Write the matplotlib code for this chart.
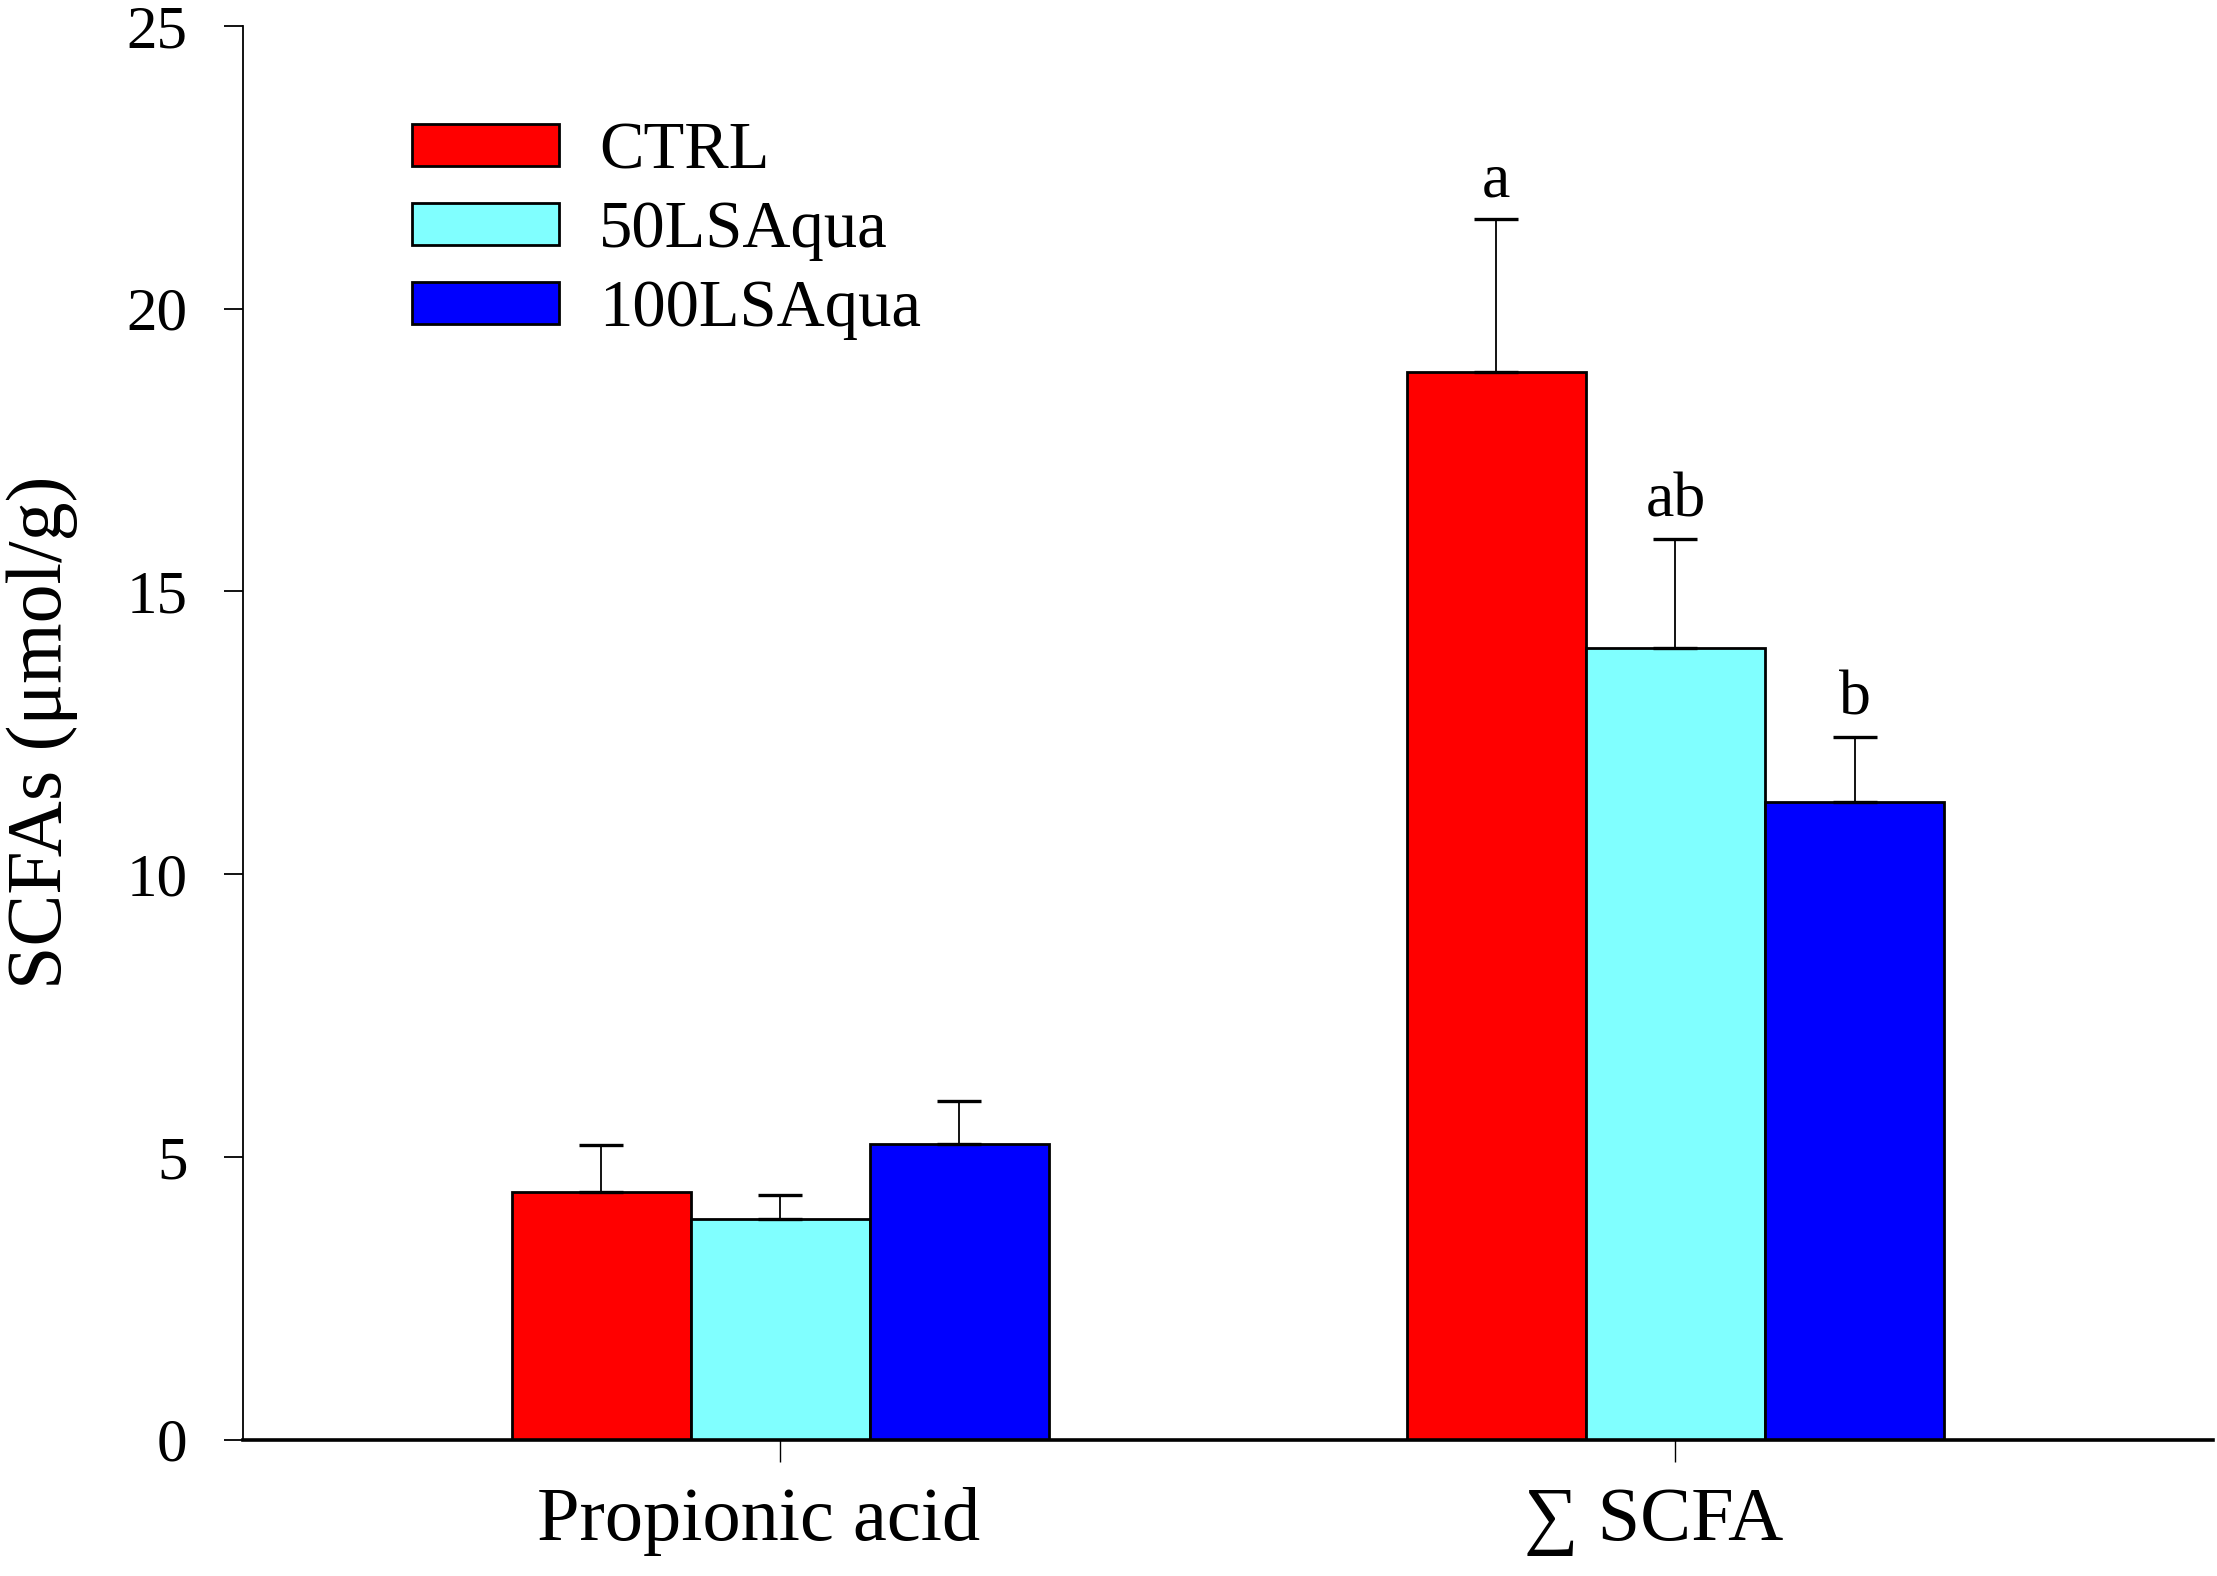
import matplotlib
matplotlib.use("Agg")
from matplotlib import pyplot as plt
from matplotlib import transforms
import numpy as np

plt.rcParams['font.family'] = ['Liberation Serif', 'DejaVu Serif']

categories = ["Propionic acid", "\u2211 SCFA"]
groups = ["CTRL", "50LSAqua", "100LSAqua"]
colors = ["#ff0000", "#80ffff", "#0000ff"]

# means and upper error (SEM) for each group
ctrl = [4.38, 18.88]
ctrl_err = [0.82, 2.70]
lsa50 = [3.90, 14.00]
lsa50_err = [0.43, 1.93]
lsa100 = [5.22, 11.28]
lsa100_err = [0.76, 1.15]
letters = [["", "a"], ["", "ab"], ["", "b"]]

means = [ctrl, lsa50, lsa100]
errs = [ctrl_err, lsa50_err, lsa100_err]

fig = plt.figure(figsize=(22.17, 15.76), dpi=100)
ax = fig.add_axes([0.1097, 0.0866, 0.8883, 0.897])

x = np.arange(1, len(categories) + 1)
w = 0.2
for i in range(3):
	pos = x + (i - 1) * w
	ax.bar(pos, means[i], width=w, color=colors[i], edgecolor="black", linewidth=2.0, label=groups[i], zorder=2)
	ax.errorbar(pos, means[i], yerr=[np.zeros(len(pos)), errs[i]], fmt="none", ecolor="black",
		elinewidth=1.3, capsize=16, capthick=2.4, zorder=3)
	for j in range(len(pos)):
		if letters[i][j]:
			ax.text(pos[j], means[i][j] + errs[i][j] + 0.4, letters[i][j], ha="center", va="baseline", fontsize=46)

ax.set_xlim(0.4, 2.6)
ax.set_ylim(0, 25)
ax.set_yticks([0, 5, 10, 15, 20, 25])
ax.set_xticks(x)
ax.set_xticklabels(categories, fontsize=55)
ax.tick_params(axis="y", labelsize=44, length=14, width=1.3, pad=26, direction="out")
ax.tick_params(axis="x", length=16, width=1.0, pad=18, direction="out")

# category labels sit a little left of their ticks in the original
shift = transforms.ScaledTranslation(-0.22, 0, fig.dpi_scale_trans)
for lab in ax.get_xticklabels():
	lab.set_transform(lab.get_transform() + shift)

for s in ["top", "right"]:
	ax.spines[s].set_visible(False)
ax.spines["left"].set_linewidth(1.3)
ax.spines["bottom"].set_linewidth(2.6)

ax.set_ylabel("SCFAs (\u03bcmol/g)", fontsize=56)
ax.yaxis.set_label_coords(-0.084, 0.5)

ax.legend(loc="upper left", bbox_to_anchor=(0.186, 0.923), bbox_transform=fig.transFigure,
	frameon=False, fontsize=48, handlelength=2.2, handleheight=0.6, handletextpad=0.6,
	labelspacing=0.27, borderpad=0, borderaxespad=0)

fig.savefig("out.png", dpi=100)
